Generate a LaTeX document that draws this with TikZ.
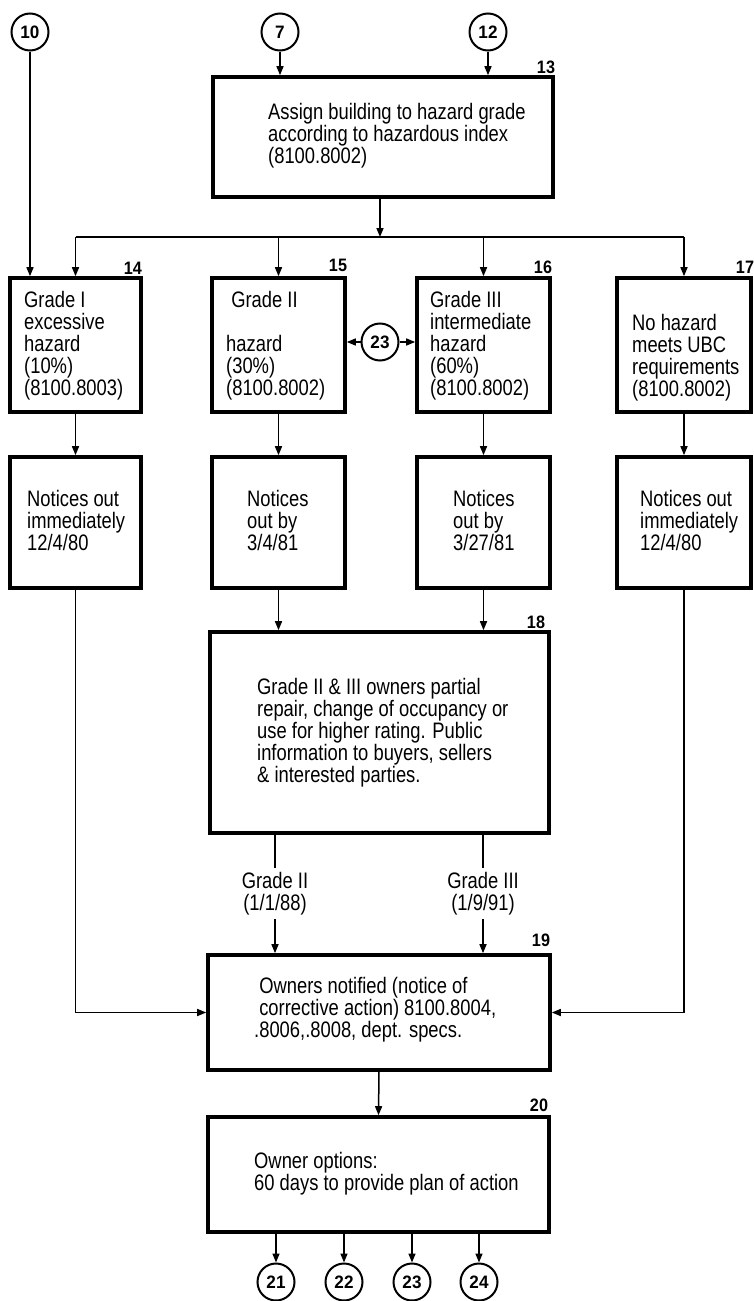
\documentclass[tikz,border=0pt]{standalone}
\usepackage{fontspec}
\setmainfont{Liberation Sans}[FakeStretch=0.82]
\newfontfamily\circfont{Liberation Sans}[FakeStretch=0.95]
\newfontfamily\numfont{Liberation Sans}[FakeStretch=0.9]
\usetikzlibrary{arrows.meta}
\begin{document}
\begin{tikzpicture}[x=1pt,y=-1pt,
 box/.style={draw, line width=3.6pt, rectangle, inner sep=0pt},
 txt/.style={anchor=west, align=left, inner sep=0pt, font=\fontsize{22.4}{22}\selectfont},
 lab/.style={align=center, inner sep=4pt, font=\fontsize{22.4}{22}\selectfont},
 num/.style={inner sep=0pt, font=\numfont\bfseries\fontsize{18}{18}\selectfont},
 circ/.style={draw, circle, line width=2pt, minimum size=37pt, inner sep=0pt, font=\circfont\bfseries\fontsize{18}{18}\selectfont},
 arr/.style={line width=1.5pt, -{Triangle[length=9pt,width=7pt]}},
 ln/.style={line width=1.5pt}]
\useasboundingbox[fill=white] (0,0) rectangle (754,1301);

% circles on top
\node[circ] (c10) at (30,32) {10};
\node[circ] (c7) at (280,32) {7};
\node[circ] (c12) at (488,32) {12};

% box 13
\node[box, minimum width=340pt, minimum height=120pt] (b13) at (383,137) {};
\node[txt] (t13) at (268,135.5) {Assign building to hazard grade\\according to hazardous index\\(8100.8002)};
\node[num] (l13) at (546,67) {13};

% row 1
\node[box, minimum width=131pt, minimum height=134pt] (b14) at (75.5,345) {};
\node[box, minimum width=133pt, minimum height=134pt] (b15) at (278.5,345) {};
\node[box, minimum width=133pt, minimum height=134pt] (b16) at (483.5,345) {};
\node[box, minimum width=134pt, minimum height=134pt] (b17) at (684,345) {};
\node[txt] (t14) at (24,346) {Grade I\\excessive\\hazard\\(10\%)\\(8100.8003)};
\node[txt] (t15) at (226,346) {\ Grade II\\ ~\\hazard\\(30\%)\\(8100.8002)};
\node[txt] (t16) at (430,346) {Grade III\\intermediate\\hazard\\(60\%)\\(8100.8002)};
\node[txt] (t17) at (632,358) {No hazard\\meets UBC\\requirements\\(8100.8002)};
\node[num] (l14) at (133,268) {14};
\node[num] (l15) at (338,265) {15};
\node[num] (l16) at (543,267) {16};
\node[num] (l17) at (745,267) {17};
\node[circ] (c23) at (380,342) {23};

% row 2
\node[box, minimum width=131pt, minimum height=131pt] (n14) at (75.5,522.5) {};
\node[box, minimum width=133pt, minimum height=131pt] (n15) at (278.5,522.5) {};
\node[box, minimum width=133pt, minimum height=131pt] (n16) at (483.5,522.5) {};
\node[box, minimum width=134pt, minimum height=131pt] (n17) at (684,522.5) {};
\node[txt] (u14) at (27,520) {Notices out\\immediately\\12/4/80};
\node[txt] (u15) at (247,520) {Notices\\out by\\3/4/81};
\node[txt] (u16) at (453,520) {Notices\\out by\\3/27/81};
\node[txt] (u17) at (640,520) {Notices out\\immediately\\12/4/80};

% box 18
\node[box, minimum width=339pt, minimum height=201pt] (b18) at (379.5,732.5) {};
\node[txt] (t18) at (257,733) {Grade II \& III owners partial\\repair, change of occupancy or\\use for higher rating. Public\\information to buyers, sellers\\\& interested parties.};
\node[num] (l18) at (536,622) {18};

% grade labels
\node[lab] (g2) at (275,893.5) {Grade II\\(1/1/88)};
\node[lab] (g3) at (483,893.5) {Grade III\\(1/9/91)};

% box 19
\node[box, minimum width=342pt, minimum height=115pt] (b19) at (379,1012.5) {};
\node[txt] (t19) at (254,1010) {\ Owners notified (notice of\\\ corrective action) 8100.8004,\\.8006,.8008, dept. specs.};
\node[num] (l19) at (541,940) {19};

% box 20
\node[box, minimum width=341pt, minimum height=115pt] (b20) at (378.5,1174.5) {};
\node[txt] (t20) at (254,1174) {Owner options:\\60 days to provide plan of action};
\node[num] (l20) at (539,1105) {20};

% bottom circles
\node[circ] (c21) at (276,1282) {21};
\node[circ] (c22) at (344,1282) {22};
\node[circ] (c23b) at (412,1282) {23};
\node[circ] (c24) at (479,1282) {24};

% connectors
\draw[arr] (c10) -- (c10 |- b14.north);
\draw[arr] (c7) -- (c7 |- b13.north);
\draw[arr] (c12) -- (c12 |- b13.north);
\coordinate (j) at (380,237);
\draw[arr] (j |- b13.south) -- (j);
\draw[ln] (b14.north |- j) -- (b17.north |- j);
\draw[arr] (b14.north |- j) -- (b14.north);
\draw[arr] (b15.north |- j) -- (b15.north);
\draw[arr] (b16.north |- j) -- (b16.north);
\draw[arr] (b17.north |- j) -- (b17.north);
\draw[arr] (c23) -- (b15.east |- c23);
\draw[arr] (c23) -- (b16.west |- c23);
\draw[arr] (b14.south) -- (n14.north);
\draw[arr] (b15.south) -- (n15.north);
\draw[arr] (b16.south) -- (n16.north);
\draw[arr] (b17.south) -- (n17.north);
\draw[arr] (n15.south) -- (n15.south |- b18.north);
\draw[arr] (n16.south) -- (n16.south |- b18.north);
\draw[arr] (n14.south) |- (b19.west);
\draw[arr] (n17.south) |- (b19.east);
\draw[ln] (g2 |- b18.south) -- (g2.north);
\draw[arr] (g2.south) -- (g2 |- b19.north);
\draw[ln] (g3 |- b18.south) -- (g3.north);
\draw[arr] (g3.south) -- (g3 |- b19.north);
\draw[arr] (b19.south) -- (b20.north);
\draw[arr] (c21 |- b20.south) -- (c21);
\draw[arr] (c22 |- b20.south) -- (c22);
\draw[arr] (c23b |- b20.south) -- (c23b);
\draw[arr] (c24 |- b20.south) -- (c24);
\end{tikzpicture}
\end{document}
